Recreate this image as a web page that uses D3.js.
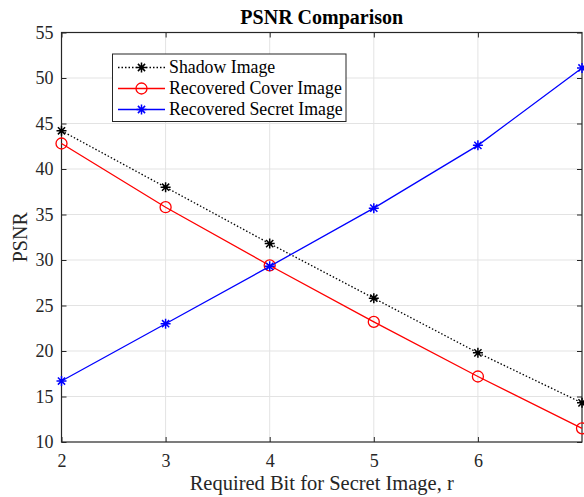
<!DOCTYPE html>
<html>
<head>
<meta charset="utf-8">
<script src="https://cdn.jsdelivr.net/npm/d3@7"></script>
<style>
  html, body { margin: 0; padding: 0; background: #fff; }
  svg text { font-family: "Liberation Serif", "Times New Roman", serif !important; }
</style>
</head>
<body>
<svg id="chart" width="584" height="497"></svg>
<script>
// Required bits r and PSNR of each image
const bits = [2, 3, 4, 5, 6, 7];
const shadowPSNR = [44.2, 38.0, 31.8, 25.8, 19.8, 14.3];
const coverPSNR = [42.8, 35.8, 29.4, 23.2, 17.2, 11.5];
const secretPSNR = [16.7, 23.0, 29.3, 35.7, 42.6, 51.1];
const xTicks = [2, 3, 4, 5, 6];
const yTicks = [10, 15, 20, 25, 30, 35, 40, 45, 50, 55];

const series = [
  { name: "Shadow Image", values: shadowPSNR, color: "#000", dash: "1.5,2", marker: "star" },
  { name: "Recovered Cover Image", values: coverPSNR, color: "#ff0000", dash: null, marker: "circle" },
  { name: "Recovered Secret Image", values: secretPSNR, color: "#0000ff", dash: null, marker: "star" }
];

const serif = "'Liberation Serif', 'Times New Roman', serif";
const svg = d3.select("#chart");
const m = { left: 61.5, top: 32.5, right: 582, bottom: 442 };
const x = d3.scaleLinear().domain([2, 7]).range([m.left, m.right]);
const y = d3.scaleLinear().domain([10, 55]).range([m.bottom, m.top]);

// grid
const grid = svg.append("g").attr("stroke", "#e3e3e3").attr("stroke-width", 1);
xTicks.slice(1).forEach(t => grid.append("line")
  .attr("x1", x(t)).attr("x2", x(t)).attr("y1", m.top).attr("y2", m.bottom));
yTicks.slice(1, -1).forEach(t => grid.append("line")
  .attr("x1", m.left).attr("x2", m.right).attr("y1", y(t)).attr("y2", y(t)));

// axes with inward ticks, mirrored on top and right
const tickLen = 5;
svg.append("g").attr("transform", `translate(0,${m.bottom})`)
  .call(d3.axisBottom(x).tickValues(xTicks).tickSizeInner(-tickLen).tickSizeOuter(0).tickPadding(12).tickFormat(d3.format("d")));
svg.append("g").attr("transform", `translate(0,${m.top})`)
  .call(d3.axisTop(x).tickValues(xTicks).tickSizeInner(-tickLen).tickSizeOuter(0).tickFormat(""));
svg.append("g").attr("transform", `translate(${m.left},0)`)
  .call(d3.axisLeft(y).tickValues(yTicks).tickSizeInner(-tickLen).tickSizeOuter(0).tickPadding(8).tickFormat(d3.format("d")));
svg.append("g").attr("transform", `translate(${m.right},0)`)
  .call(d3.axisRight(y).tickValues(yTicks).tickSizeInner(-tickLen).tickSizeOuter(0).tickFormat(""));

svg.selectAll(".domain").remove();
svg.selectAll("g").attr("font-family", serif).attr("font-size", null);
svg.selectAll(".tick line").attr("stroke", "#262626");
svg.selectAll(".tick text").style("font-family", serif).style("font-size", "18px").attr("fill", "#262626");

svg.append("rect").attr("x", m.left).attr("y", m.top)
  .attr("width", m.right - m.left).attr("height", m.bottom - m.top)
  .attr("fill", "none").attr("stroke", "#262626").attr("stroke-width", 1.2);

const line = d3.line().x((d, i) => x(bits[i])).y(d => y(d));

function drawMarker(g, kind, cx, cy, color) {
  if (kind === "circle") {
    g.append("circle").attr("cx", cx).attr("cy", cy).attr("r", 5.5)
      .attr("fill", "none").attr("stroke", color).attr("stroke-width", 1.3);
  } else {
    const r = 5, d = r * 0.72;
    const p = `M${cx - r},${cy}L${cx + r},${cy}M${cx},${cy - r}L${cx},${cy + r}` +
      `M${cx - d},${cy - d}L${cx + d},${cy + d}M${cx - d},${cy + d}L${cx + d},${cy - d}`;
    g.append("path").attr("d", p).attr("stroke", color).attr("stroke-width", 1.5).attr("fill", "none");
  }
}

series.forEach(s => {
  const g = svg.append("g");
  g.append("path").datum(s.values).attr("d", line)
    .attr("fill", "none").attr("stroke", s.color).attr("stroke-width", 1.3)
    .attr("stroke-dasharray", s.dash);
  s.values.forEach((v, i) => drawMarker(g, s.marker, x(bits[i]), y(v), s.color));
});

// title and labels
svg.append("text").attr("x", (m.left + m.right) / 2).attr("y", 24)
  .attr("text-anchor", "middle").style("font-size", "20px").attr("font-weight", "bold")
  .attr("fill", "#000").text("PSNR Comparison");
svg.append("text").attr("x", (m.left + m.right) / 2).attr("y", 490)
  .attr("text-anchor", "middle").style("font-size", "20.5px").attr("fill", "#262626")
  .text("Required Bit for Secret Image, r");
svg.append("text").attr("transform", `translate(27,${(m.top + m.bottom) / 2}) rotate(-90)`)
  .attr("text-anchor", "middle").style("font-size", "20px").attr("fill", "#262626").text("PSNR");

// legend
const lg = svg.append("g");
lg.append("rect").attr("x", 112.5).attr("y", 54).attr("width", 233.5).attr("height", 67.5)
  .attr("fill", "#fff").attr("stroke", "#262626").attr("stroke-width", 1);
series.forEach((s, i) => {
  const ly = 67.5 + i * 21;
  lg.append("line").attr("x1", 118).attr("x2", 165).attr("y1", ly).attr("y2", ly)
    .attr("stroke", s.color).attr("stroke-width", 1.3).attr("stroke-dasharray", s.dash);
  drawMarker(lg, s.marker, 141.5, ly, s.color);
  lg.append("text").attr("x", 169).attr("y", ly + 5.5).style("font-size", "17.8px")
    .attr("fill", "#000").text(s.name);
});
</script>
</body>
</html>
